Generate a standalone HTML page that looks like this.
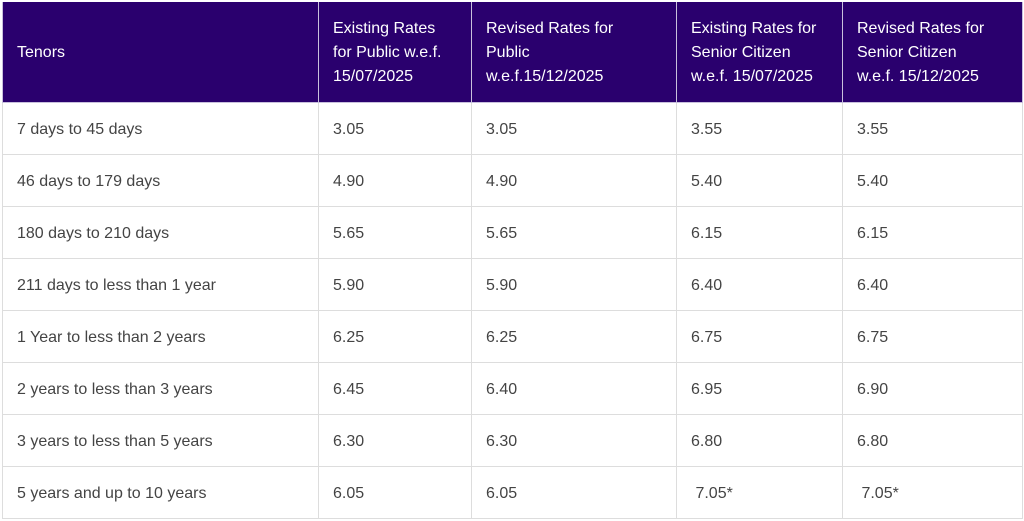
<!DOCTYPE html>
<html><head><style>
body{margin:0;width:1024px;height:521px;background:#fff;overflow:hidden;font-family:"Liberation Sans",sans-serif;}
table{position:absolute;left:2px;top:2px;border-collapse:collapse;table-layout:fixed;width:1020px;}
td,th{border:1px solid #ddd;padding:2px 0 0 14px;font-size:16px;text-align:left;vertical-align:middle;white-space:nowrap;}
th{background:#2a006e;color:#fff;font-weight:normal;height:98px;line-height:24px;border-color:#c8c0dc;border-top:none;}
td{height:49px;color:#444;}
</style></head><body>
<table>
<colgroup><col style="width:316px"><col style="width:153px"><col style="width:205px"><col style="width:166px"><col style="width:180px"></colgroup>
<tr><th>Tenors</th><th>Existing Rates<br>for Public w.e.f.<br>15/07/2025</th><th>Revised Rates for<br>Public<br>w.e.f.15/12/2025</th><th>Existing Rates for<br>Senior Citizen<br>w.e.f. 15/07/2025</th><th>Revised Rates for<br>Senior Citizen<br>w.e.f. 15/12/2025</th></tr>
<tr><td>7 days to 45 days</td><td>3.05</td><td>3.05</td><td>3.55</td><td>3.55</td></tr>
<tr><td>46 days to 179 days</td><td>4.90</td><td>4.90</td><td>5.40</td><td>5.40</td></tr>
<tr><td>180 days to 210 days</td><td>5.65</td><td>5.65</td><td>6.15</td><td>6.15</td></tr>
<tr><td>211 days to less than 1 year</td><td>5.90</td><td>5.90</td><td>6.40</td><td>6.40</td></tr>
<tr><td>1 Year to less than 2 years</td><td>6.25</td><td>6.25</td><td>6.75</td><td>6.75</td></tr>
<tr><td>2 years to less than 3 years</td><td>6.45</td><td>6.40</td><td>6.95</td><td>6.90</td></tr>
<tr><td>3 years to less than 5 years</td><td>6.30</td><td>6.30</td><td>6.80</td><td>6.80</td></tr>
<tr><td>5 years and up to 10 years</td><td>6.05</td><td>6.05</td><td>&nbsp;7.05*</td><td>&nbsp;7.05*</td></tr>
</table>
</body></html>
